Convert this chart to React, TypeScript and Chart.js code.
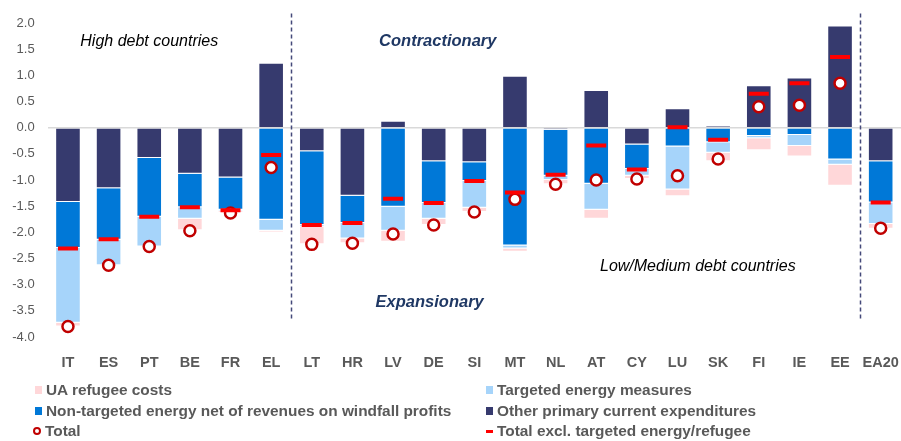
import React, { useEffect, useRef } from 'react';
import { Chart, registerables } from 'chart.js';

Chart.register(...registerables);

const categories = ['IT', 'ES', 'PT', 'BE', 'FR', 'EL', 'LT', 'HR', 'LV', 'DE', 'SI', 'MT', 'NL', 'AT', 'CY', 'LU', 'SK', 'FI', 'IE', 'EE', 'EA20'];

const otherPrimary = [-1.42, -1.16, -0.58, -0.88, -0.95, 1.24, -0.45, -1.30, 0.13, -0.64, -0.66, 0.99, -0.04, 0.72, -0.32, 0.37, 0.03, 0.81, 0.96, 1.95, -0.64];
const nonTargeted = [-0.88, -0.98, -1.12, -0.64, -0.62, -1.76, -1.41, -0.52, -1.51, -0.80, -0.36, -2.25, -0.88, -1.07, -0.47, -0.36, -0.28, -0.16, -0.14, -0.61, -0.79];
const targetedEnergy = [-1.43, -0.49, -0.57, -0.22, -0.02, -0.21, -0.03, -0.30, -0.46, -0.30, -0.51, -0.06, -0.08, -0.50, -0.13, -0.82, -0.20, -0.04, -0.21, -0.10, -0.41];
const refugeeCosts = [-0.07, 0, 0, -0.22, -0.03, -0.03, -0.34, -0.09, -0.21, -0.12, -0.08, -0.06, -0.08, -0.17, -0.06, -0.13, -0.16, -0.23, -0.20, -0.40, -0.09];
const total = [-3.80, -2.63, -2.27, -1.97, -1.63, -0.76, -2.23, -2.21, -2.03, -1.86, -1.61, -1.37, -1.08, -1.00, -0.98, -0.92, -0.60, 0.40, 0.43, 0.85, -1.92];
const totalExcl = [-2.31, -2.13, -1.70, -1.52, -1.58, -0.52, -1.86, -1.82, -1.36, -1.44, -1.02, -1.24, -0.90, -0.34, -0.80, 0.01, -0.23, 0.65, 0.85, 1.35, -1.43];

const yTicksMin = -4;
const yTicksMax = 2;
const yTickStep = 0.5;

// groups separated by dashed lines: after these category indices
const dividerAfter = [5, 19];

const annotations = [
  { text: 'High debt countries', xIndex: 2.0, yValue: 1.65, font: 'italic 16px "Liberation Sans", Arial, sans-serif', color: '#000000' },
  { text: 'Contractionary', xIndex: 9.1, yValue: 1.65, font: 'italic bold 16.5px "Liberation Sans", Arial, sans-serif', color: '#1F3864' },
  { text: 'Expansionary', xIndex: 8.9, yValue: -3.34, font: 'italic bold 16.5px "Liberation Sans", Arial, sans-serif', color: '#1F3864' },
  { text: 'Low/Medium debt countries', xIndex: 15.5, yValue: -2.65, font: 'italic 16px "Liberation Sans", Arial, sans-serif', color: '#000000' },
];

const COLORS = {
  other: '#363A6E',
  nonTargeted: '#0078D7',
  targeted: '#A6D4FA',
  refugee: '#FFD7D9',
  total: '#C00000',
  totalExcl: '#FF0000',
};

const FONT = '"Liberation Sans", Arial, sans-serif';

const annotationPlugin = {
  id: 'annotationPlugin',
  afterDraw(chart: any) {
    const { ctx, scales } = chart;
    const x = scales.x;
    const y = scales.y;
    ctx.save();
    ctx.strokeStyle = '#44497A';
    ctx.lineWidth = 1.5;
    ctx.setLineDash([4, 3]);
    dividerAfter.forEach((i) => {
      const px = Math.round((x.getPixelForValue(i) + x.getPixelForValue(i + 1)) / 2) + 0.5;
      ctx.beginPath();
      ctx.moveTo(px, y.getPixelForValue(2.18));
      ctx.lineTo(px, y.getPixelForValue(-3.68));
      ctx.stroke();
    });
    ctx.setLineDash([]);
    ctx.textAlign = 'center';
    ctx.textBaseline = 'middle';
    annotations.forEach((a) => {
      const px = x.getPixelForValue(0) + (x.getPixelForValue(1) - x.getPixelForValue(0)) * a.xIndex;
      ctx.font = a.font;
      ctx.fillStyle = a.color;
      ctx.fillText(a.text, px, y.getPixelForValue(a.yValue));
    });
    ctx.restore();
  },
};

const legendItems = [
  { label: 'UA refugee costs', kind: 'box', color: COLORS.refugee, col: 0, row: 0 },
  { label: 'Targeted energy measures', kind: 'box', color: COLORS.targeted, col: 1, row: 0 },
  { label: 'Non-targeted energy net of revenues on windfall profits', kind: 'box', color: COLORS.nonTargeted, col: 0, row: 1 },
  { label: 'Other primary current expenditures', kind: 'box', color: COLORS.other, col: 1, row: 1 },
  { label: 'Total', kind: 'circle', color: COLORS.total, col: 0, row: 2 },
  { label: 'Total excl. targeted energy/refugee', kind: 'line', color: COLORS.totalExcl, col: 1, row: 2 },
];

export default function App() {
  const ref = useRef<HTMLCanvasElement>(null);

  useEffect(() => {
    document.body.style.margin = '0';
    Chart.defaults.font.family = FONT;
    const barCommon = {
      type: 'bar' as const,
      stack: 'bars',
      order: 2,
      barPercentage: 0.63,
      categoryPercentage: 1,
      borderWidth: 1,
      borderColor: 'rgba(255,255,255,0.3)',
    };
    const chart = new Chart(ref.current as HTMLCanvasElement, {
      type: 'bar',
      data: {
        labels: categories,
        datasets: [
          { ...barCommon, label: 'Other primary current expenditures', data: otherPrimary, backgroundColor: COLORS.other },
          { ...barCommon, label: 'Non-targeted energy net of revenues on windfall profits', data: nonTargeted, backgroundColor: COLORS.nonTargeted },
          { ...barCommon, label: 'Targeted energy measures', data: targetedEnergy, backgroundColor: COLORS.targeted },
          { ...barCommon, label: 'UA refugee costs', data: refugeeCosts, backgroundColor: COLORS.refugee },
          {
            type: 'line',
            label: 'Total',
            data: total,
            stack: 'total',
            order: 1,
            showLine: false,
            pointStyle: 'circle',
            pointRadius: 5.5,
            pointBorderWidth: 2.5,
            pointBackgroundColor: '#FFFFFF',
            pointBorderColor: COLORS.total,
            borderColor: COLORS.total,
            backgroundColor: '#FFFFFF',
          } as any,
          {
            type: 'line',
            label: 'Total excl. targeted energy/refugee',
            data: totalExcl,
            stack: 'excl',
            order: 0,
            showLine: false,
            pointStyle: 'line',
            pointRadius: 10,
            pointBorderWidth: 4,
            pointBorderColor: COLORS.totalExcl,
            borderColor: COLORS.totalExcl,
          } as any,
        ],
      },
      options: {
        responsive: false,
        devicePixelRatio: 1,
        animation: false,
        layout: { autoPadding: false, padding: { top: 23, right: 0, bottom: 44, left: 0 } },
        plugins: { legend: { display: false }, tooltip: { enabled: false } },
        scales: {
          x: {
            stacked: true,
            grid: { display: false, drawTicks: false },
            border: { display: false },
            ticks: {
              color: '#595959',
              font: { family: FONT, size: 14.5, weight: 'bold', lineHeight: 3.55 },
              padding: 0,
              autoSkip: false,
              maxRotation: 0,
            },
            afterFit: (s: any) => { s.height = 60; s.paddingLeft = 0; s.paddingRight = 0; },
          },
          y: {
            stacked: true,
            min: yTicksMin,
            max: yTicksMax,
            ticks: {
              stepSize: yTickStep,
              color: '#595959',
              font: { family: FONT, size: 13 },
              padding: 13,
              callback: (v: any) => Number(v).toFixed(1),
            },
            grid: {
              drawTicks: false,
              color: (c: any) => (c.tick && c.tick.value === 0 ? '#D9D9D9' : 'rgba(0,0,0,0)'),
              lineWidth: (c: any) => (c.tick && c.tick.value === 0 ? 1.5 : 0),
            },
            border: { display: false },
            afterFit: (s: any) => { s.width = 47.65; },
          },
        },
      },
      plugins: [annotationPlugin],
    } as any);
    return () => chart.destroy();
  }, []);

  const rowTops = [380, 401, 421];
  const colLeft = [35, 486];

  return (
    <div style={{ position: 'relative', width: 901, height: 441, fontFamily: FONT }}>
      <canvas ref={ref} width={901} height={441} style={{ position: 'absolute', left: 0, top: 0, width: 901, height: 441 }} />
      {legendItems.map((it) => (
        <div
          key={it.label}
          style={{
            position: 'absolute',
            left: colLeft[it.col],
            top: rowTops[it.row],
            height: 20,
            display: 'flex',
            alignItems: 'center',
            whiteSpace: 'nowrap',
            color: '#595959',
            fontWeight: 'bold',
            fontSize: 15.4,
            lineHeight: '20px',
          }}
        >
          {it.kind === 'box' && (
            <span style={{ display: 'inline-block', width: 7, height: 8, background: it.color, marginRight: 4 }} />
          )}
          {it.kind === 'circle' && (
            <span style={{ display: 'inline-block', width: 4, height: 4, border: `2px solid ${it.color}`, borderRadius: '50%', marginLeft: -2, marginRight: 4, background: '#fff' }} />
          )}
          {it.kind === 'line' && (
            <span style={{ display: 'inline-block', width: 7, height: 3, background: it.color, marginRight: 4 }} />
          )}
          <span>{it.label}</span>
        </div>
      ))}
    </div>
  );
}
